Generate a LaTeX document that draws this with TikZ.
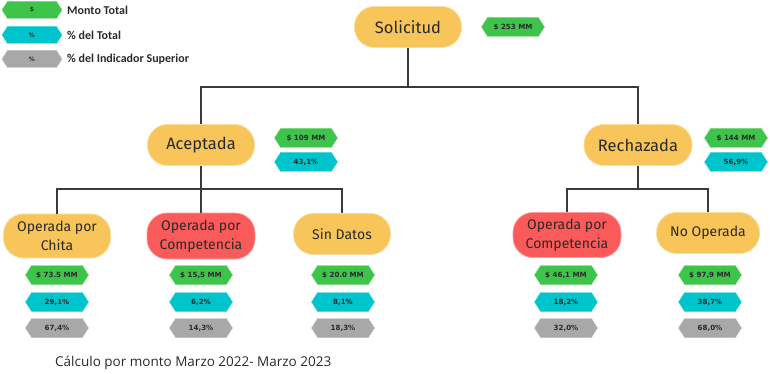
\documentclass[tikz,border=0pt]{standalone}
\usepackage{fontspec}
\setmainfont{Fira Sans}
\newfontfamily\capfont{Open Sans}
\newfontfamily\legfont{Carlito}
\newfontfamily\tagfont{DejaVu Sans}
\usetikzlibrary{shapes.symbols}
\definecolor{yel}{HTML}{F7C55A}
\definecolor{redb}{HTML}{FA5A5A}
\definecolor{grn}{HTML}{3EC44A}
\definecolor{cyn}{HTML}{00C4CC}
\definecolor{gry}{HTML}{A8A8A8}
\definecolor{lin}{HTML}{3A3A3A}
\definecolor{txt}{HTML}{2A2A2A}
\begin{document}
\begin{tikzpicture}[x=1pt,y=-1pt,
  box/.style={rectangle, rounded corners=20pt, fill=yel, draw=yel!60!white, line width=0.8pt,
    minimum width=107pt, minimum height=41pt, align=center,
    font=\fontsize{14}{19}\selectfont, text=txt, inner sep=2pt},
  bigtext/.style={font=\fontsize{16.5}{19}\selectfont},
  redbox/.style={box, fill=redb, draw=redb!60!white},
  hex/.style={signal, signal to=east and west, signal pointer angle=115,
    minimum width=63pt, minimum height=19pt, inner sep=0pt,
    font=\tagfont\fontsize{7.1}{8}\selectfont\bfseries, text=txt},
  ghex/.style={hex, fill=grn, draw=grn!70!white},
  chex/.style={hex, fill=cyn, draw=cyn!70!white},
  yhex/.style={hex, fill=gry, draw=gry!70!white},
  lhex/.style={minimum width=60pt, minimum height=17pt, font=\tagfont\fontsize{6}{7}\selectfont\bfseries},
  leg/.style={anchor=west, font=\legfont\fontsize{12}{14}\selectfont\bfseries, text=txt, inner sep=0pt},
  conn/.style={draw=lin, line width=1.4pt}
]
\useasboundingbox (0,0) rectangle (770,374);

% legend
\node[ghex, lhex] (lg1) at (32,10) {\$};
\node[chex, lhex] (lg2) at (32,35) {\%};
\node[yhex, lhex] (lg3) at (32,59) {\%};
\node[leg] (lt1) at (67,10) {Monto Total};
\node[leg] (lt2) at (67,35) {\% del Total};
\node[leg] (lt3) at (67,59) {\% del Indicador Superior};

% main boxes
\node[box, bigtext] (sol) at (408,27) {Solicitud};
\node[box, bigtext] (acc) at (201,145) {Aceptada};
\node[box, bigtext, minimum width=108pt] (rej) at (638,145) {Rechazada};

\node[box, minimum height=44pt] (chi) at (57,236) {Operada por\\Chita};
\node[redbox, minimum height=46pt, minimum width=108pt] (com) at (201,236) {Operada por\\Competencia};
\node[box, minimum width=97pt] (sin) at (342,234) {Sin Datos};
\node[redbox, minimum height=45pt, minimum width=108pt] (com2) at (567,235) {Operada por\\Competencia};
\node[box, minimum width=103pt] (nop) at (708,233) {No Operada};

% connectors
\coordinate (j1) at (408,87);
\coordinate (j2) at (201,189);
\coordinate (j3) at (638,189);
\draw[conn] (sol.south) -- (j1) -| (acc.north);
\draw[conn] (j1) -| (rej.north);
\draw[conn] (acc.south) -- (j2) -| (chi.north);
\draw[conn] (j2) -- (com.north);
\draw[conn] (j2) -| (sin.north);
\draw[conn] (rej.south) -- (j3) -| (com2.north);
\draw[conn] (j3) -| (nop.north);

% value tags
\node[ghex] (vsol) at (513,27) {\$ 253 MM};
\node[ghex] (vacc) at (306,138) {\$ 109 MM};
\node[chex] (pacc) at (306,162) {43,1\%};
\node[ghex] (vrej) at (736,138) {\$ 144 MM};
\node[chex] (prej) at (736,162) {56,9\%};

\node[ghex] (vchi) at (57,275) {\$ 73.5 MM};
\node[chex] (pchi) at (57,302) {29,1\%};
\node[yhex] (schi) at (57,328) {67,4\%};

\node[ghex] (vcom) at (201,275) {\$ 15,5 MM};
\node[chex] (pcom) at (201,302) {6,2\%};
\node[yhex] (scom) at (201,328) {14,3\%};

\node[ghex] (vsin) at (343,275) {\$ 20.0 MM};
\node[chex] (psin) at (343,302) {8,1\%};
\node[yhex] (ssin) at (343,328) {18,3\%};

\node[ghex] (vcom2) at (566,275) {\$ 46,1 MM};
\node[chex] (pcom2) at (566,302) {18,2\%};
\node[yhex] (scom2) at (566,328) {32,0\%};

\node[ghex] (vnop) at (710,275) {\$ 97,9 MM};
\node[chex] (pnop) at (710,302) {38,7\%};
\node[yhex] (snop) at (710,328) {68,0\%};

% caption
\node[anchor=west, inner sep=0pt, font=\capfont\fontsize{13.5}{16}\selectfont, text=txt] (cap) at (55,363) {Cálculo por monto Marzo 2022- Marzo 2023};
\end{tikzpicture}
\end{document}
